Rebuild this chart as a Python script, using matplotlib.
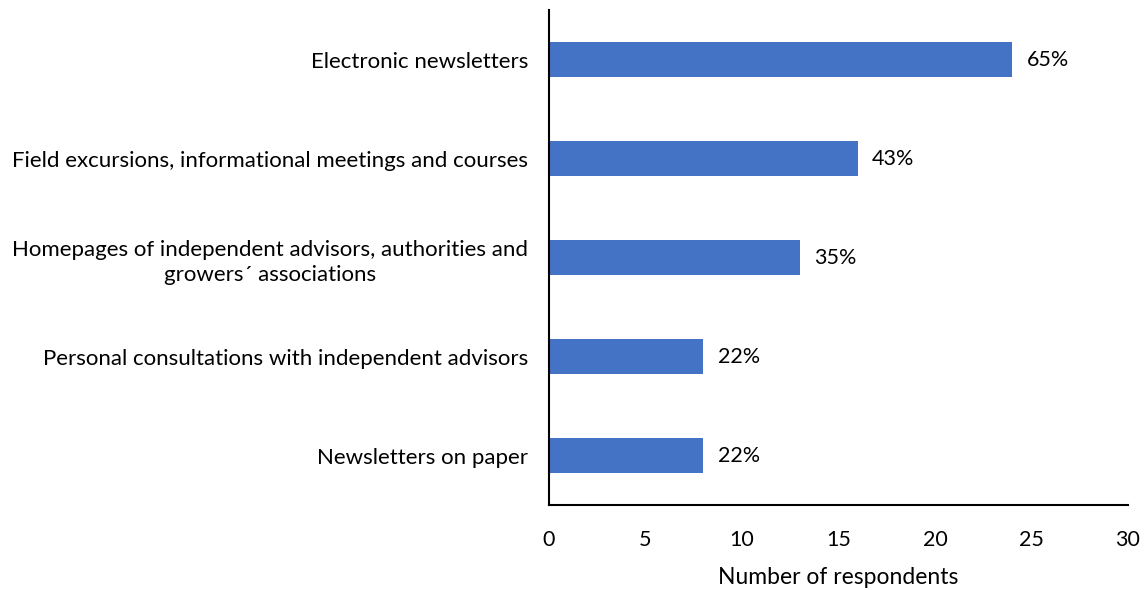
import matplotlib.pyplot as plt

plt.rcParams['font.family'] = ['Lato', 'DejaVu Sans']

categories = ["Newsletters on paper",
              "Personal consultations with independent advisors",
              "Homepages of independent advisors, authorities and\ngrowers\u00b4 associations",
              "Field excursions, informational meetings and courses",
              "Electronic newsletters"]
respondents = [8, 8, 13, 16, 24]
percent_labels = ["22%", "22%", "35%", "43%", "65%"]

fig = plt.figure(figsize=(11.45, 5.9), dpi=100)
ax = fig.add_axes([0.4795, 0.144, 0.5055, 0.839])

bars = ax.barh(range(len(categories)), respondents, height=0.36, color="#4472C4")
for bar, lab in zip(bars, percent_labels):
    ax.text(bar.get_width() + 0.75, bar.get_y() + bar.get_height() / 2, lab,
            va="center", ha="left", fontsize=15.5)

ax.set_yticks(range(len(categories)))
ax.set_yticklabels(categories, fontsize=16, ha="right", multialignment="center",
                   linespacing=1.35)
ax.tick_params(axis="y", length=0, pad=15)
ax.set_ylim(-0.5, 4.5)
ax.set_xlim(0, 30)
ax.set_xticks([0, 5, 10, 15, 20, 25, 30])
ax.tick_params(axis="x", length=0, pad=18, labelsize=15.5)
ax.set_xlabel("Number of respondents", fontsize=16.5, labelpad=12)

for s in ["top", "right"]:
    ax.spines[s].set_visible(False)
for s in ["left", "bottom"]:
    ax.spines[s].set_linewidth(1.5)

fig.savefig("out.png", dpi=100)
